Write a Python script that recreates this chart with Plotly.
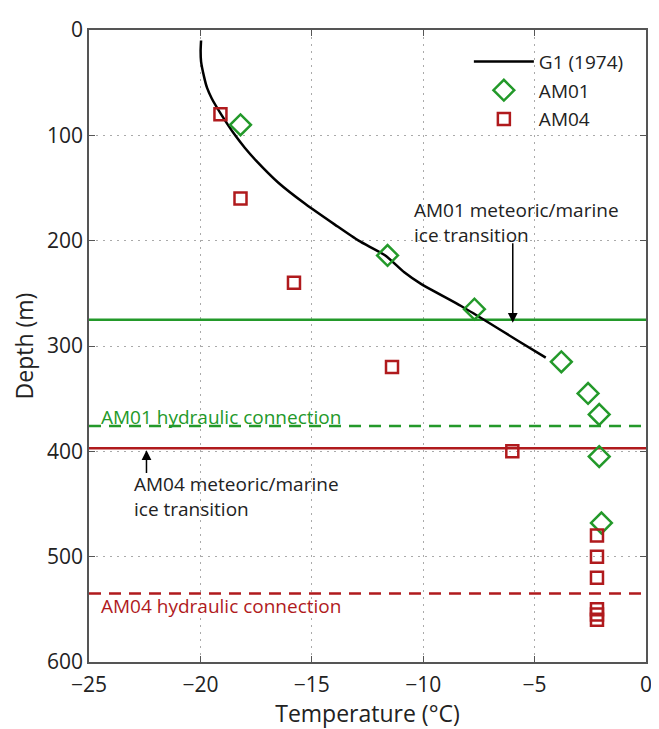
import plotly.graph_objects as go

# G1 (1974) temperature profile
g1_depth = [10, 20, 30, 44, 55, 65, 81, 100, 112, 124, 145, 165, 185, 200, 214, 230, 241, 262, 276, 295, 311]
g1_temp = [-19.97, -19.99, -19.97, -19.84, -19.7, -19.49, -19.04, -18.44, -18.0, -17.5, -16.5, -15.3, -13.95, -12.9, -11.7, -10.85, -10.1, -8.3, -7.2, -5.75, -4.5]

# AM01 measurements
am01_temp = [-18.2, -11.6, -7.7, -3.8, -2.6, -2.1, -2.1, -2.0]
am01_depth = [90, 214, 265, 315, 345, 365, 405, 468]

# AM04 measurements
am04_temp = [-19.1, -18.2, -15.8, -11.4, -6.0, -2.2, -2.2, -2.2, -2.2, -2.2, -2.2]
am04_depth = [80, 160, 240, 320, 400, 480, 500, 520, 550, 555, 560]

# Reference depths (m)
am01_transition = 275
am01_hydraulic = 376
am04_transition = 397
am04_hydraulic = 535

x_range = [-25, 0]
x_ticks = [-25, -20, -15, -10, -5, 0]
x_ticklabels = ["\u221225", "\u221220", "\u221215", "\u221210", "\u22125", "0"]
y_ticks = [0, 100, 200, 300, 400, 500, 600]

GREEN = "#23992a"
RED = "#b01a1d"
FONT = "Open Sans"
TXT = "#222"

fig = go.Figure()

# horizontal reference lines
for d, col, dash in [(am01_transition, GREEN, "solid"), (am01_hydraulic, GREEN, "12px,8px"),
                     (am04_transition, RED, "solid"), (am04_hydraulic, RED, "12px,8px")]:
    fig.add_trace(go.Scatter(x=x_range, y=[d, d], mode="lines",
                             line=dict(color=col, width=2.5, dash=dash),
                             showlegend=False, hoverinfo="skip"))

fig.add_trace(go.Scatter(x=g1_temp, y=g1_depth, mode="lines", name="G1 (1974)", legendgroup="g1",
                         line=dict(color="black", width=2.5, shape="spline", smoothing=0.6)))
fig.add_trace(go.Scatter(x=am01_temp, y=am01_depth, mode="markers", name="AM01", legendgroup="a1",
                         marker=dict(symbol="diamond-open", size=16, color=GREEN,
                                     line=dict(color=GREEN, width=2.5))))
fig.add_trace(go.Scatter(x=am04_temp, y=am04_depth, mode="markers", name="AM04", legendgroup="a4",
                         marker=dict(symbol="square-open", size=12, color=RED,
                                     line=dict(color=RED, width=2.5))))

annots = [
    dict(x=-10.5, y=183, text="AM01 meteoric/marine<br>ice transition", showarrow=False,
         xanchor="left", yanchor="middle", align="left", font=dict(color=TXT, size=19)),
    dict(x=-24.55, y=367, text="AM01 hydraulic connection", showarrow=False,
         xanchor="left", yanchor="middle", font=dict(color=GREEN, size=19)),
    dict(x=-23.08, y=443, text="AM04 meteoric/marine<br>ice transition", showarrow=False,
         xanchor="left", yanchor="middle", align="left", font=dict(color=TXT, size=19)),
    dict(x=-24.55, y=547, text="AM04 hydraulic connection", showarrow=False,
         xanchor="left", yanchor="middle", font=dict(color=RED, size=19)),
    dict(x=-5.98, y=278, ax=-5.98, ay=201, axref="x", ayref="y", text="", showarrow=True,
         arrowhead=2, arrowsize=1.3, arrowwidth=1.5, arrowcolor="black"),
    dict(x=-22.42, y=399, ax=-22.42, ay=422, axref="x", ayref="y", text="", showarrow=True,
         arrowhead=2, arrowsize=1.3, arrowwidth=1.5, arrowcolor="black"),
]

# the page body adds an 8 px margin, so the figure is 8 px smaller on each axis
fig.update_layout(
    width=651, height=721,
    margin=dict(l=81, r=7, t=12, b=67),
    paper_bgcolor="white", plot_bgcolor="white",
    font=dict(family=FONT, size=19, color=TXT),
    annotations=annots,
    legend=dict(x=0.682, y=0.98, xanchor="left", yanchor="top", bgcolor="rgba(255,255,255,0)",
                font=dict(size=19), itemwidth=60, tracegroupgap=1),
)
fig.update_xaxes(range=x_range, tickvals=x_ticks, ticktext=x_ticklabels,
                 showgrid=True, gridcolor="#aaa", griddash="2px,5px", gridwidth=1,
                 showline=True, linecolor="#555", linewidth=1.5, mirror="ticks",
                 ticks="inside", ticklen=6, tickcolor="#555", zeroline=False,
                 tickfont=dict(size=21, color=TXT), ticklabelstandoff=3,
                 ticklabeloverflow="allow",
                 title=dict(text="Temperature (\u00b0C)", font=dict(size=23, color=TXT), standoff=4))
fig.update_yaxes(range=[600, 0], tickvals=y_ticks,
                 showgrid=True, gridcolor="#aaa", griddash="2px,5px", gridwidth=1,
                 showline=True, linecolor="#555", linewidth=1.5, mirror="ticks",
                 ticks="inside", ticklen=6, tickcolor="#555", zeroline=False,
                 tickfont=dict(size=21, color=TXT), ticklabeloverflow="allow",
                 title=dict(text="Depth (m)", font=dict(size=23, color=TXT), standoff=11))

fig.write_html("out.html")
